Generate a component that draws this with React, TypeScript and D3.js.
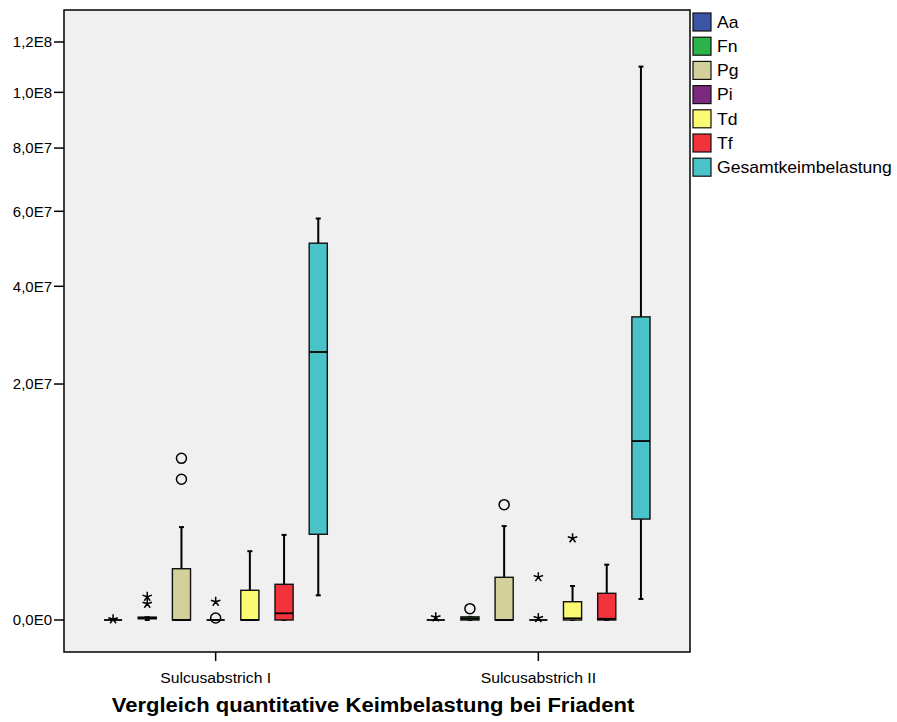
import React, { useEffect, useRef } from "react";
import * as d3 from "d3";

const groups = ["Sulcusabstrich I", "Sulcusabstrich II"];
const series = ["Aa", "Fn", "Pg", "Pi", "Td", "Tf", "Gesamtkeimbelastung"];
const seriesColors = ["#3a55a5", "#2cb34a", "#d4d09b", "#7c2a80", "#fcf973", "#f2333b", "#49c3c7"];
const yTicks = [0, 2e7, 4e7, 6e7, 8e7, 1e8, 1.2e8];
const title = "Vergleich quantitative Keimbelastung bei Friadent";

// [lower whisker, Q1, median, Q3, upper whisker] per series
const boxesI = [
  [0, 0, 0, 0, 0],
  [0, 500, 1500, 3000, 3000],
  [0, 0, 0, 9.45e5, 3.1e6],
  [0, 0, 0, 0, 0],
  [0, 0, 0, 3.17e5, 1.7e6],
  [0, 0, 1.6e4, 4.58e5, 2.6e6],
  [2.19e5, 2.64e6, 2.58e7, 5.1e7, 5.79e7],
];
const boxesII = [
  [0, 0, 0, 0, 0],
  [0, 0, 800, 3500, 3500],
  [0, 0, 0, 6.55e5, 3.17e6],
  [0, 0, 0, 0, 0],
  [0, 0, 1000, 1.2e5, 4.15e5],
  [0, 0, 500, 2.56e5, 1.1e6],
  [1.58e5, 3.66e6, 1.15e7, 3.3e7, 1.1e8],
];

// outliers: [series index, value, kind]  kind "o" = circle, "*" = extreme
const outliersI: [number, number, string][] = [
  [0, 200, "*"],
  [1, 1.95e5, "*"],
  [1, 9.5e4, "*"],
  [2, 9.39e6, "o"],
  [2, 7.11e6, "o"],
  [3, 1400, "o"],
  [3, 1.2e5, "*"],
];
const outliersII: [number, number, string][] = [
  [0, 2600, "*"],
  [1, 4.6e4, "o"],
  [2, 4.78e6, "o"],
  [3, 1400, "*"],
  [3, 6.6e5, "*"],
  [4, 2.4e6, "*"],
];

const boxes = [boxesI, boxesII];
const outliers = [outliersI, outliersII];

const W = 897;
const H = 722;
const panel = { left: 64, right: 690, top: 10, bottom: 652 };
const font = "'Liberation Sans', Arial, sans-serif";

const fmt = (v: number) => {
  if (v === 0) return "0,0E0";
  const e = Math.floor(Math.log10(v));
  const m = v / Math.pow(10, e);
  return m.toFixed(1).replace(".", ",") + "E" + e;
};

// five-armed asterisk like SPSS extreme marker
const starPath = (r: number) => {
  let p = "";
  for (let k = 0; k < 5; k++) {
    const a = ((-90 + k * 72) * Math.PI) / 180;
    p += `M0,0L${(Math.cos(a) * r).toFixed(2)},${(Math.sin(a) * r).toFixed(2)}`;
  }
  return p;
};

export default function App() {
  const ref = useRef<SVGSVGElement>(null);

  useEffect(() => {
    const svg = d3.select(ref.current);
    svg.selectAll("*").remove();

    const y = d3.scaleSqrt().domain([0, 1.2e8]).range([620, 42]);
    const x = d3.scalePoint().domain(groups).range([panel.left, panel.right]).padding(0.47);
    const inner = d3
      .scaleBand()
      .domain(series)
      .range([-119.7, 119.7])
      .paddingInner(0.47)
      .paddingOuter(0.235);
    const bw = inner.bandwidth();

    svg
      .append("rect")
      .attr("x", panel.left)
      .attr("y", panel.top)
      .attr("width", panel.right - panel.left)
      .attr("height", panel.bottom - panel.top)
      .attr("fill", "#f0f0f0")
      .attr("stroke", "#000")
      .attr("stroke-width", 1.5);

    // y axis
    const yAxis = svg.append("g");
    yTicks.forEach((t) => {
      yAxis
        .append("line")
        .attr("x1", 54)
        .attr("x2", panel.left)
        .attr("y1", y(t))
        .attr("y2", y(t))
        .attr("stroke", "#000")
        .attr("stroke-width", 1.5);
      yAxis
        .append("text")
        .attr("x", 52)
        .attr("y", y(t))
        .attr("dy", "0.35em")
        .attr("text-anchor", "end")
        .attr("font-family", font)
        .attr("font-size", 15)
        .attr("fill", "#000")
        .text(fmt(t));
    });

    // x axis
    groups.forEach((g) => {
      const gx = x(g)!;
      svg
        .append("line")
        .attr("x1", gx)
        .attr("x2", gx)
        .attr("y1", panel.bottom)
        .attr("y2", panel.bottom + 9)
        .attr("stroke", "#000")
        .attr("stroke-width", 1.5);
      svg
        .append("text")
        .attr("transform", `translate(${gx},683) scale(1.05,1)`)
        .attr("text-anchor", "middle")
        .attr("font-family", font)
        .attr("font-size", 15)
        .attr("fill", "#000")
        .text(g);
    });

    // boxes
    groups.forEach((g, gi) => {
      const gg = svg.append("g");
      boxes[gi].forEach((b, si) => {
        const cx = x(g)! + inner(series[si])! + bw / 2;
        const [lo, q1, med, q3, hi] = b;
        // whiskers
        gg.append("line")
          .attr("x1", cx).attr("x2", cx)
          .attr("y1", y(hi)).attr("y2", y(q3))
          .attr("stroke", "#000").attr("stroke-width", 2);
        gg.append("line")
          .attr("x1", cx).attr("x2", cx)
          .attr("y1", y(q1)).attr("y2", y(lo))
          .attr("stroke", "#000").attr("stroke-width", 2);
        [lo, hi].forEach((v) => {
          gg.append("line")
            .attr("x1", cx - 2.5).attr("x2", cx + 2.5)
            .attr("y1", y(v)).attr("y2", y(v))
            .attr("stroke", "#000").attr("stroke-width", 2);
        });
        gg.append("rect")
          .attr("x", cx - bw / 2)
          .attr("y", y(q3))
          .attr("width", bw)
          .attr("height", Math.max(0, y(q1) - y(q3)))
          .attr("fill", seriesColors[si])
          .attr("stroke", "#111")
          .attr("stroke-width", 1.4);
        gg.append("line")
          .attr("x1", cx - bw / 2).attr("x2", cx + bw / 2)
          .attr("y1", y(med)).attr("y2", y(med))
          .attr("stroke", "#000").attr("stroke-width", 1.8);
      });

      outliers[gi].forEach(([si, v, kind]) => {
        const cx = x(g)! + inner(series[si])! + bw / 2;
        if (kind === "o") {
          gg.append("circle")
            .attr("cx", cx).attr("cy", y(v)).attr("r", 5)
            .attr("fill", "none").attr("stroke", "#000").attr("stroke-width", 1.5);
        } else {
          gg.append("path")
            .attr("transform", `translate(${cx},${y(v)})`)
            .attr("d", starPath(5))
            .attr("fill", "none").attr("stroke", "#000").attr("stroke-width", 1.5);
        }
      });
    });

    // legend
    const lg = svg.append("g");
    series.forEach((s, i) => {
      const top = 13 + i * 24.2;
      lg.append("rect")
        .attr("x", 693).attr("y", top)
        .attr("width", 18).attr("height", 18)
        .attr("fill", seriesColors[i])
        .attr("stroke", "#111").attr("stroke-width", 1.2);
      lg.append("text")
        .attr("transform", `translate(717,${top + 9}) scale(1.1,1)`)
        .attr("dy", "0.36em")
        .attr("font-family", font)
        .attr("font-size", 16)
        .attr("fill", "#000")
        .text(s);
    });

    svg
      .append("text")
      .attr("transform", "translate(373,712) scale(1.13,1)")
      .attr("text-anchor", "middle")
      .attr("font-family", font)
      .attr("font-size", 19.5)
      .attr("font-weight", "bold")
      .attr("fill", "#000")
      .text(title);
  }, []);

  return (
    <svg
      ref={ref}
      width={W}
      height={H}
      style={{ position: "absolute", left: 0, top: 0, background: "#fff" }}
    />
  );
}
